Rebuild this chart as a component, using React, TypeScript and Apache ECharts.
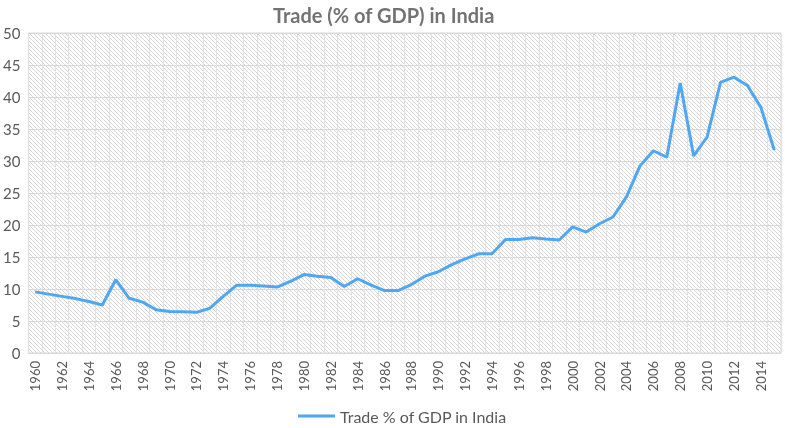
import React, { useEffect, useRef } from "react";
import * as echarts from "echarts";

const years: string[] = [];
for (let y = 1960; y <= 2015; y++) years.push(String(y));

const tradeValues = [
  9.55, 9.2, 8.85, 8.5, 8.05, 7.5, 11.45, 8.55, 7.95, 6.75,
  6.5, 6.45, 6.35, 7.0, 8.85, 10.6, 10.6, 10.45, 10.3, 11.2,
  12.25, 12.0, 11.8, 10.4, 11.6, 10.6, 9.75, 9.75, 10.7, 12.0,
  12.7, 13.8, 14.7, 15.5, 15.5, 17.75, 17.75, 18.0, 17.8, 17.65,
  19.7, 18.9, 20.2, 21.25, 24.4, 29.2, 31.6, 30.6, 42.2, 30.8,
  33.75, 42.3, 43.1, 41.8, 38.4, 31.7,
];

const seriesName = "Trade % of GDP in India";
const titleText = "Trade (% of GDP) in India";

const hatchSvg =
  "<svg xmlns='http://www.w3.org/2000/svg' width='4' height='4'>" +
  "<rect width='4' height='4' fill='#ffffff'/>" +
  "<path d='M-1,-1 L5,5 M-1,3 L1,5 M3,-1 L5,1' stroke='#d6d6d6' stroke-width='1'/>" +
  "</svg>";
const hatchUrl = "data:image/svg+xml;charset=utf-8," + encodeURIComponent(hatchSvg);

export default function App() {
  const ref = useRef<HTMLDivElement>(null);
  useEffect(() => {
    if (!ref.current) return;
    const chart = echarts.init(ref.current, null, { renderer: "svg" });
    const font = "Lato, 'Open Sans', sans-serif";
    chart.setOption({
      animation: false,
      textStyle: { fontFamily: font },
      title: {
        text: titleText,
        left: 268,
        top: 0,
        textStyle: { color: "#737373", fontSize: 20, fontWeight: "bold", fontFamily: font },
      },
      grid: {
        left: 28,
        right: 4,
        top: 33,
        bottom: 75,
        show: true,
        borderColor: "#d9d9d9",
        borderWidth: 1,
        backgroundColor: { image: hatchUrl, repeat: "repeat" } as any,
      },
      legend: {
        top: 403,
        left: 293,
        icon: "rect",
        itemWidth: 37,
        itemHeight: 3,
        itemGap: 10,
        textStyle: { color: "#595959", fontSize: 16, fontFamily: font },
        data: [seriesName],
      },
      xAxis: {
        type: "category",
        data: years,
        boundaryGap: true,
        axisLine: { lineStyle: { color: "#d9d9d9" } },
        axisTick: { show: false },
        axisLabel: {
          interval: 1,
          rotate: 90,
          margin: 8,
          color: "#595959",
          fontSize: 13,
          fontFamily: font,
        },
        splitLine: { show: true, interval: 0, lineStyle: { color: "#e2e2e2", width: 1 } },
      },
      yAxis: {
        type: "value",
        min: 0,
        max: 50,
        interval: 5,
        axisLine: { show: false },
        axisTick: { show: false },
        axisLabel: { color: "#595959", fontSize: 15, margin: 8, fontFamily: font },
        splitLine: { lineStyle: { color: "#d9d9d9", width: 1 } },
      },
      series: [
        {
          name: seriesName,
          type: "line",
          data: tradeValues,
          symbol: "none",
          lineStyle: { color: "#4fa7f2", width: 3 },
          itemStyle: { color: "#4fa7f2" },
        },
      ],
    });
    return () => chart.dispose();
  }, []);
  return (
    <div
      ref={ref}
      style={{ position: "fixed", left: 0, top: 0, width: 785, height: 428 }}
    />
  );
}
